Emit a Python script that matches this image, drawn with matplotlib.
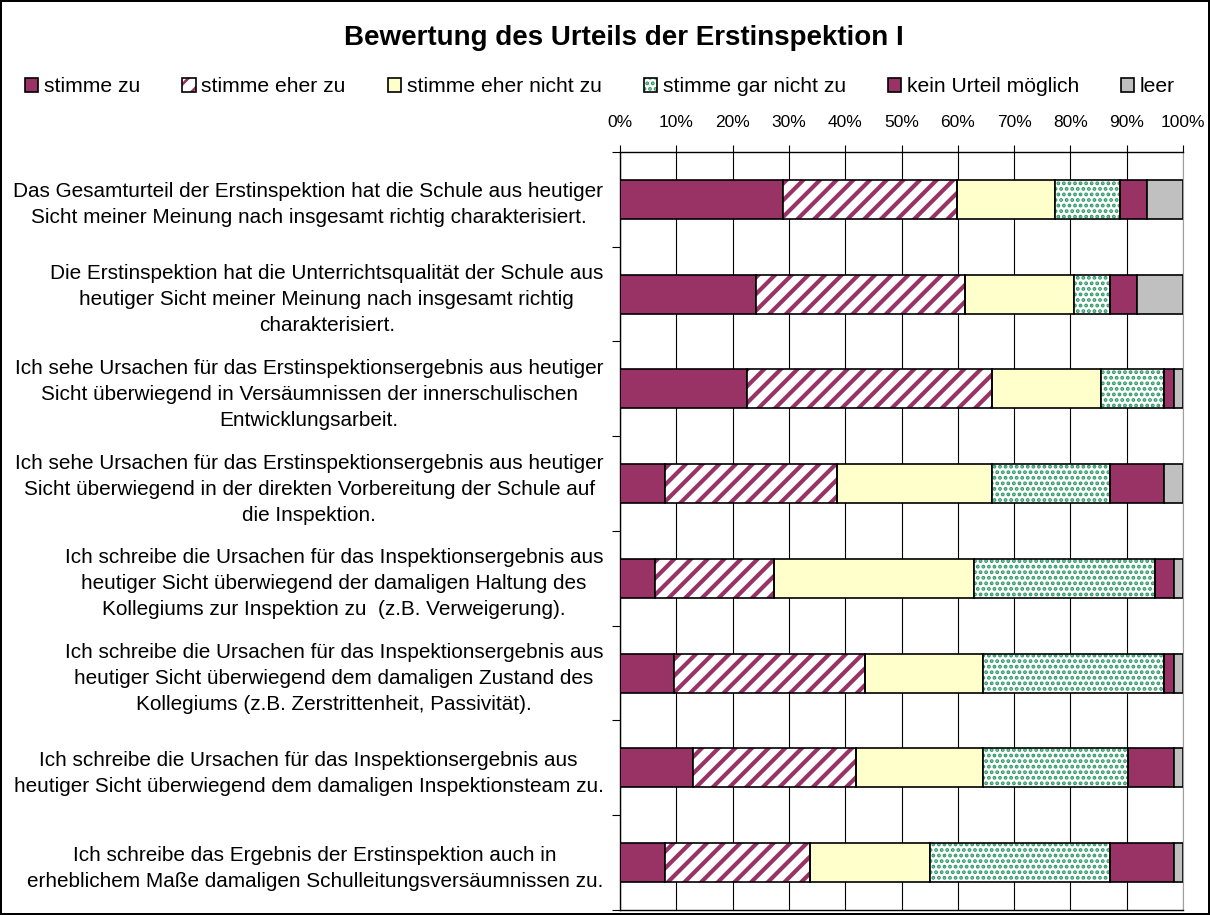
import numpy as np
import matplotlib
matplotlib.use('Agg')
import matplotlib.pyplot as plt
from matplotlib.legend_handler import HandlerTuple
from matplotlib.ticker import PercentFormatter

plt.rcParams['font.family'] = ['Liberation Sans', 'DejaVu Sans']

# --- data (percent of answers) ---
questions = [
    "Das Gesamturteil der Erstinspektion hat die Schule aus heutiger\nSicht meiner Meinung nach insgesamt richtig charakterisiert.",
    "Die Erstinspektion hat die Unterrichtsqualität der Schule aus\nheutiger Sicht meiner Meinung nach insgesamt richtig\ncharakterisiert.",
    "Ich sehe Ursachen für das Erstinspektionsergebnis aus heutiger\nSicht überwiegend in Versäumnissen der innerschulischen\nEntwicklungsarbeit.",
    "Ich sehe Ursachen für das Erstinspektionsergebnis aus heutiger\nSicht überwiegend in der direkten Vorbereitung der Schule auf\ndie Inspektion.",
    "Ich schreibe die Ursachen für das Inspektionsergebnis aus\nheutiger Sicht überwiegend der damaligen Haltung des\nKollegiums zur Inspektion zu  (z.B. Verweigerung).",
    "Ich schreibe die Ursachen für das Inspektionsergebnis aus\nheutiger Sicht überwiegend dem damaligen Zustand des\nKollegiums (z.B. Zerstrittenheit, Passivität).",
    "Ich schreibe die Ursachen für das Inspektionsergebnis aus\nheutiger Sicht überwiegend dem damaligen Inspektionsteam zu.",
    "Ich schreibe das Ergebnis der Erstinspektion auch in\nerheblichem Maße damaligen Schulleitungsversäumnissen zu.",
]
answers = ["stimme zu", "stimme eher zu", "stimme eher nicht zu",
           "stimme gar nicht zu", "kein Urteil möglich", "leer"]

stimme_zu       = [29.0, 24.1, 22.6,  8.0,  6.3,  9.6, 12.9,  8.0]
stimme_eher_zu  = [30.8, 37.1, 43.4, 30.5, 21.1, 33.9, 29.0, 25.8]
eher_nicht_zu   = [17.5, 19.4, 19.4, 27.5, 35.4, 21.0, 22.6, 21.2]
gar_nicht_zu    = [11.5,  6.4, 11.3, 21.0, 32.3, 32.2, 25.7, 32.0]
kein_urteil     = [ 4.8,  4.8,  1.7,  9.7,  3.3,  1.7,  8.2, 11.4]
leer            = [ 6.4,  8.2,  1.6,  3.3,  1.6,  1.6,  1.6,  1.6]

series = [stimme_zu, stimme_eher_zu, eher_nicht_zu, gar_nicht_zu, kein_urteil, leer]

# style per answer: (face, hatch colour, hatch, hatch linewidth)
purple = '#993366'
green = '#2e9966'
styles = [
    (purple, None, None, 0),
    ('white', purple, '//', 3.0),
    ('#ffffcc', None, None, 0),
    ('white', green, '...', 1.9),
    (purple, None, None, 0),
    ('#c0c0c0', None, None, 0),
]

fig = plt.figure(figsize=(12.1, 9.15), dpi=100)
fig.patch.set_edgecolor('black')
fig.patch.set_linewidth(1.5)
ax = fig.add_axes([0.5124, 0.0055, 0.4653, 0.8284])

y = np.arange(len(questions))
left = np.zeros(len(questions))
handles = []
for vals, (face, hcol, hatch, hlw), name in zip(series, styles, answers):
    vals = np.array(vals)
    if hatch:
        plt.rcParams['hatch.linewidth'] = hlw
        fill = ax.barh(y, vals, left=left, height=0.41, color=face,
                       edgecolor=hcol, hatch=hatch, linewidth=0, zorder=3)
        for p in fill:
            if hasattr(p, 'set_hatch_linewidth'):
                p.set_hatch_linewidth(hlw)
        edge = ax.barh(y, vals, left=left, height=0.41, facecolor='none',
                       edgecolor='black', linewidth=1.2, zorder=4)
        handles.append((fill, edge))
    else:
        bar = ax.barh(y, vals, left=left, height=0.41, color=face,
                      edgecolor='black', linewidth=1.2, zorder=3)
        handles.append(bar)
    left += vals

ax.set_xlim(0, 100)
ax.set_ylim(len(questions) - 0.5, -0.5)
ax.xaxis.tick_top()
ax.set_xticks(np.arange(0, 101, 10))
ax.xaxis.set_major_formatter(PercentFormatter(decimals=0))
ax.tick_params(axis='x', direction='out', length=5, width=0.8, labelsize=12.5, pad=11)
ax.grid(axis='x', color='black', linewidth=0.8, zorder=0)

ax.set_yticks(y)
ax.set_yticklabels(questions, fontsize=14.95, linespacing=1.47)
for t in ax.get_yticklabels():
    t.set_multialignment('center')
ax.tick_params(axis='y', which='major', length=0, pad=12)
ax.set_yticks(np.arange(-0.5, len(questions)), minor=True)
ax.tick_params(axis='y', which='minor', direction='out', length=6, width=0.8)

for s in ['left', 'top', 'bottom']:
    ax.spines[s].set_color('black')
    ax.spines[s].set_linewidth(1)
ax.spines['right'].set_color('#a0a0a0')

fig.text(0.516, 1 - 38 / 915, "Bewertung des Urteils der Erstinspektion I",
         ha='center', va='center', fontsize=20, fontweight='bold')

leg = fig.legend(handles, answers, loc='center', bbox_to_anchor=(0.496, 1 - 87 / 915),
                 ncol=6, frameon=False, fontsize=15.2, handlelength=0.62,
                 handleheight=0.62, handletextpad=0.27, columnspacing=2.0,
                 handler_map={tuple: HandlerTuple(ndivide=1)})

fig.savefig('out.png', dpi=100, edgecolor=fig.get_edgecolor())
